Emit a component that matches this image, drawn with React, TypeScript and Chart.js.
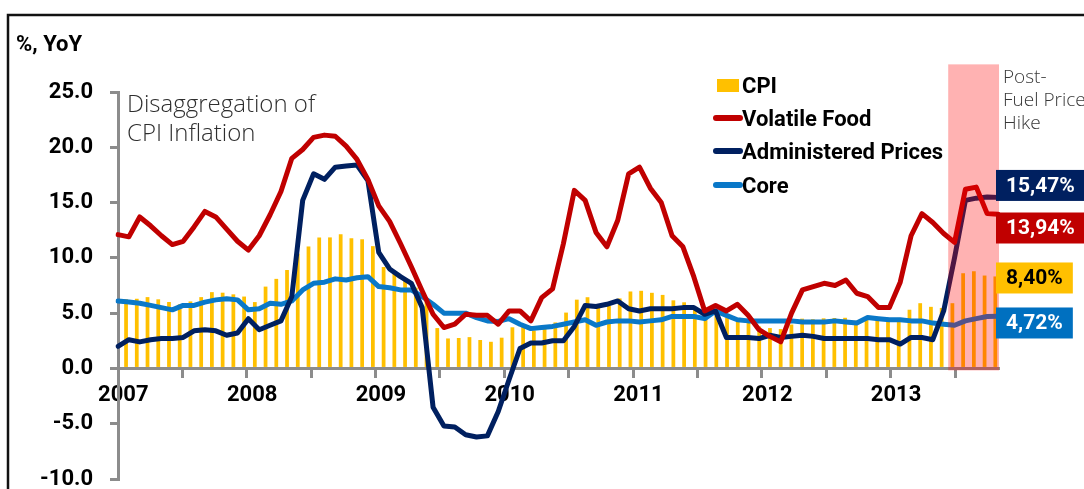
import React, { useEffect, useRef } from 'react';
import { Chart, registerables } from 'chart.js';

Chart.register(...registerables);

// ---------- DATA ----------
const yearLabels: string[] = ['2007', '2008', '2009', '2010', '2011', '2012', '2013'];
const monthNames: string[] = ['Jan', 'Feb', 'Mar', 'Apr', 'May', 'Jun', 'Jul', 'Aug', 'Sep', 'Oct', 'Nov', 'Dec'];
const months: string[] = yearLabels
  .flatMap((y) => monthNames.map((m) => `${m} ${y}`))
  .slice(0, 82); // Jan 2007 .. Oct 2013

const cpi: number[] = [
  6.26, 6.3, 6.45, 6.25, 6.01, 5.8, 6.06, 6.45, 6.9, 6.85, 6.7, 6.5,
  6.0, 7.4, 8.1, 8.9, 10.38, 11.03, 11.85, 11.85, 12.14, 11.77, 11.68, 11.06,
  9.17, 8.6, 7.92, 7.31, 6.04, 3.65, 2.71, 2.75, 2.83, 2.57, 2.41, 2.78,
  3.72, 3.81, 3.43, 3.91, 4.16, 5.05, 6.22, 6.44, 5.8, 5.67, 6.33, 6.96,
  7.02, 6.84, 6.65, 6.16, 5.98, 5.54, 4.61, 4.79, 4.61, 4.42, 4.15, 3.79,
  3.65, 3.56, 3.97, 4.5, 4.45, 4.53, 4.56, 4.58, 4.31, 4.61, 4.32, 4.3,
  4.57, 5.31, 5.9, 5.57, 5.47, 5.9, 8.61, 8.79, 8.4, 8.32,
];

const volatileFood: number[] = [
  12.1, 11.9, 13.7, 12.9, 12.0, 11.2, 11.5, 12.8, 14.2, 13.7, 12.6, 11.5,
  10.7, 12.0, 13.9, 16.0, 19.0, 19.8, 20.9, 21.1, 21.0, 20.1, 18.9, 17.1,
  14.7, 13.3, 11.3, 9.2, 7.0, 4.9, 3.7, 4.0, 4.9, 4.8, 4.8, 4.0,
  5.2, 5.2, 4.3, 6.4, 7.2, 11.3, 16.1, 15.2, 12.3, 11.0, 13.4, 17.6,
  18.2, 16.3, 15.0, 12.0, 11.0, 8.3, 5.2, 5.7, 5.2, 5.8, 4.8, 3.5,
  2.9, 2.4, 5.0, 7.1, 7.4, 7.7, 7.5, 8.0, 6.8, 6.5, 5.5, 5.5,
  7.8, 12.0, 14.0, 13.2, 12.2, 11.4, 16.2, 16.4, 14.0, 13.94,
];

const administered: number[] = [
  2.0, 2.6, 2.4, 2.6, 2.7, 2.7, 2.8, 3.4, 3.5, 3.4, 3.0, 3.2,
  4.5, 3.5, 3.9, 4.3, 6.5, 15.2, 17.6, 17.1, 18.2, 18.3, 18.4, 17.0,
  10.5, 9.0, 8.3, 7.7, 5.5, -3.5, -5.2, -5.3, -6.0, -6.2, -6.1, -3.9,
  -1.0, 1.8, 2.3, 2.3, 2.5, 2.5, 3.8, 5.7, 5.6, 5.8, 6.1, 5.4,
  5.2, 5.4, 5.4, 5.4, 5.5, 5.5, 4.9, 5.2, 2.8, 2.8, 2.8, 2.7,
  3.0, 2.8, 2.9, 3.0, 2.9, 2.7, 2.7, 2.7, 2.7, 2.7, 2.6, 2.6,
  2.2, 2.8, 2.8, 2.6, 5.2, 10.0, 15.2, 15.4, 15.5, 15.47,
];

const core: number[] = [
  6.1, 6.0, 5.9, 5.7, 5.5, 5.3, 5.7, 5.7, 6.0, 6.2, 6.3, 6.2,
  5.3, 5.4, 5.9, 5.8, 6.1, 7.1, 7.7, 7.8, 8.1, 8.0, 8.2, 8.3,
  7.4, 7.3, 7.1, 7.1, 6.5, 5.8, 5.0, 5.0, 5.0, 4.6, 4.3, 4.25,
  4.5, 4.0, 3.6, 3.7, 3.8, 4.0, 4.2, 4.4, 3.9, 4.2, 4.3, 4.3,
  4.2, 4.3, 4.4, 4.7, 4.7, 4.7, 4.5, 5.2, 4.8, 4.4, 4.3, 4.3,
  4.3, 4.3, 4.3, 4.2, 4.2, 4.2, 4.3, 4.2, 4.1, 4.6, 4.5, 4.4,
  4.4, 4.3, 4.3, 4.1, 4.0, 3.9, 4.3, 4.5, 4.7, 4.72,
];

const yTicks: number[] = [-10, -5, 0, 5, 10, 15, 20, 25];

const seriesNames: string[] = ['CPI', 'Volatile Food', 'Administered Prices', 'Core'];
const seriesColors: string[] = ['#ffc000', '#c00000', '#002060', '#0a78c8'];

// End-of-series value tags: text and the value level where the tag sits
const endTagTexts: string[] = ['15,47%', '13,94%', '8,40%', '4,72%'];
const endTagBg: string[] = ['#002060', '#c00000', '#ffc000', '#0070c0'];
const endTagFg: string[] = ['#ffffff', '#ffffff', '#000000', '#ffffff'];
const endTagLevels: number[] = [16.55, 12.7, 8.18, 4.11];

const hikeStartIndex = 77; // fuel price hike (mid 2013)

const BOLD = 'bold 22px Roboto, "Open Sans", sans-serif';
const GRAY = '#8c8c8c';

const decorPlugin = {
  id: 'decor',
  afterDraw(chart: any) {
    const ctx: CanvasRenderingContext2D = chart.ctx;
    const area = chart.chartArea;
    const xs = chart.scales.x;
    const ys = chart.scales.y;
    ctx.save();

    // Pink band: post-fuel price hike
    const bandL = xs.getPixelForValue(hikeStartIndex) - 1.5;
    const bandT = ys.getPixelForValue(27.5);
    const bandB = ys.getPixelForValue(0) + 2;
    ctx.fillStyle = 'rgba(255,0,0,0.3)';
    ctx.fillRect(bandL, bandT, area.right + 1 - bandL, bandB - bandT);

    // Frame lines (top and left)
    ctx.strokeStyle = '#111111';
    ctx.lineWidth = 2.5;
    ctx.beginPath();
    ctx.moveTo(8, chart.height + 2);
    ctx.lineTo(8, 15);
    ctx.lineTo(chart.width + 2, 15);
    ctx.stroke();

    // Unit label
    ctx.fillStyle = '#000';
    ctx.font = BOLD;
    ctx.textAlign = 'left';
    ctx.textBaseline = 'alphabetic';
    ctx.fillText('%, YoY', 16, 51);

    // Annotation text
    ctx.fillStyle = '#2e2e2e';
    ctx.font = '300 24px "Open Sans", sans-serif';
    ctx.fillText('Disaggregation of', 127, 112);
    ctx.fillText('CPI Inflation', 127, 141);

    ctx.font = '300 19px "Open Sans", sans-serif';
    ctx.fillStyle = '#383838';
    ctx.fillText('Post-', 1003, 83);
    ctx.fillText('Fuel Price', 1003, 106);
    ctx.fillText('Hike', 1003, 129);

    // Legend
    const lx = 713;
    const baselines = [93, 126, 159, 193];
    seriesNames.forEach((name, i) => {
      const by = baselines[i];
      if (i === 0) {
        ctx.fillStyle = seriesColors[0];
        ctx.fillRect(lx + 4, by - 14, 22, 13);
      } else {
        ctx.strokeStyle = seriesColors[i];
        ctx.lineWidth = 6;
        ctx.lineCap = 'round';
        ctx.beginPath();
        ctx.moveTo(lx + 3, by - 8);
        ctx.lineTo(lx + 27, by - 8);
        ctx.stroke();
      }
      ctx.fillStyle = '#000';
      ctx.font = BOLD;
      ctx.fillText(name, lx + 29, by);
    });

    // End value tags
    ctx.font = 'bold 21px Roboto, "Open Sans", sans-serif';
    endTagTexts.forEach((t, i) => {
      const cy = ys.getPixelForValue(endTagLevels[i]);
      const w = ctx.measureText(t).width + 20;
      const h = 31;
      const left = area.right - 2;
      ctx.fillStyle = endTagBg[i];
      ctx.fillRect(left, cy - h / 2, w, h);
      ctx.fillStyle = endTagFg[i];
      ctx.textAlign = 'center';
      ctx.textBaseline = 'middle';
      ctx.fillText(t, left + w / 2, cy + 1);
    });

    ctx.restore();
  },
};

export default function App() {
  const ref = useRef<HTMLCanvasElement>(null);

  useEffect(() => {
    if (!ref.current) return;
    const chart = new Chart(ref.current, {
      type: 'bar',
      data: {
        labels: months,
        datasets: [
          {
            type: 'line',
            label: seriesNames[1],
            data: volatileFood,
            xAxisID: 'x2',
            borderColor: seriesColors[1],
            backgroundColor: seriesColors[1],
            order: 1,
          },
          {
            type: 'line',
            label: seriesNames[2],
            data: administered,
            xAxisID: 'x2',
            borderColor: seriesColors[2],
            backgroundColor: seriesColors[2],
            order: 2,
          },
          {
            type: 'line',
            label: seriesNames[3],
            data: core,
            xAxisID: 'x2',
            borderColor: seriesColors[3],
            backgroundColor: seriesColors[3],
            order: 3,
          },
          {
            type: 'bar',
            label: seriesNames[0],
            data: cpi,
            xAxisID: 'x',
            backgroundColor: seriesColors[0],
            borderWidth: 0,
            barPercentage: 0.7,
            categoryPercentage: 1.0,
            order: 4,
          },
        ] as any,
      },
      options: {
        responsive: false,
        maintainAspectRatio: false,
        devicePixelRatio: 1,
        animation: false,
        events: [],
        layout: { padding: { top: 92, left: 0, right: 86, bottom: 10 } },
        datasets: { bar: { barPercentage: 0.7, categoryPercentage: 1.0 } } as any,
        elements: {
          line: { borderWidth: 5, tension: 0, borderJoinStyle: 'round', borderCapStyle: 'round', fill: false },
          point: { radius: 0 },
        },
        plugins: { legend: { display: false }, tooltip: { enabled: false } },
        scales: {
          x: {
            type: 'category',
            axis: 'x',
            position: { y: 0 } as any,
            offset: true,
            grid: {
              offset: true,
              drawOnChartArea: false,
              drawTicks: true,
              tickLength: 8,
              lineWidth: 3,
              color: (c: any) => (c.index % 6 === 0 ? GRAY : 'rgba(0,0,0,0)'),
            },
            border: { display: true, color: GRAY, width: 3 },
            ticks: {
              autoSkip: false,
              maxRotation: 0,
              minRotation: 0,
              padding: 8,
              color: '#000',
              font: { family: 'Roboto, "Open Sans", sans-serif', size: 22, weight: 'bold', lineHeight: 1 },
              callback: (_v: any, i: number) => (i % 12 === 0 ? yearLabels[i / 12] : ''),
            },
            afterFit: (s: any) => {
              s.paddingLeft = 0;
              s.paddingRight = 0;
            },
          },
          x2: {
            type: 'category',
            axis: 'x',
            offset: false,
            display: false,
          },
          y: {
            type: 'linear',
            min: -10,
            max: 25,
            grid: {
              drawOnChartArea: false,
              drawTicks: true,
              tickLength: 8,
              lineWidth: 3,
              color: GRAY,
            },
            border: { display: true, color: GRAY, width: 3 },
            afterBuildTicks: (s: any) => {
              s.ticks = yTicks.map((v) => ({ value: v }));
            },
            ticks: {
              padding: 17,
              color: '#000',
              font: { family: 'Roboto, "Open Sans", sans-serif', size: 22, weight: 'bold', lineHeight: 0.8 },
              callback: (v: any) => Number(v).toFixed(1),
            },
            afterFit: (s: any) => {
              s.width = 118;
              s.paddingTop = 0;
              s.paddingBottom = 0;
            },
          },
        } as any,
      },
      plugins: [decorPlugin],
    });
    return () => chart.destroy();
  }, []);

  return (
    <div style={{ position: 'fixed', left: 0, top: 0, width: 1084, height: 489, background: '#ffffff' }}>
      <canvas ref={ref} width={1084} height={489} style={{ display: 'block', width: 1084, height: 489 }} />
    </div>
  );
}
